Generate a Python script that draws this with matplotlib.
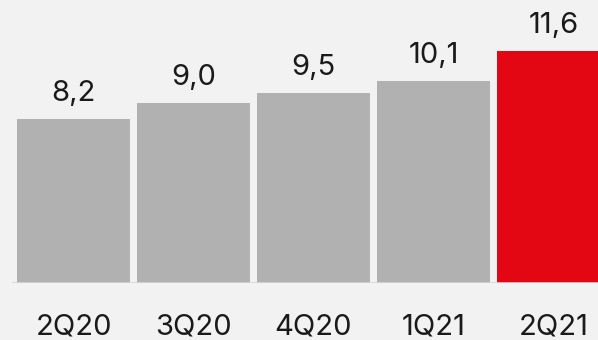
import matplotlib
matplotlib.use("Agg")
import matplotlib.pyplot as plt

quarters = ["2Q20", "3Q20", "4Q20", "1Q21", "2Q21"]
values = [8.2, 9.0, 9.5, 10.1, 11.6]
labels = ["8,2", "9,0", "9,5", "10,1", "11,6"]

bg = "#f2f2f2"
grey = "#b0b1b0"
red = "#e30613"
text_color = "#1a1a1a"
colors = [grey, grey, grey, grey, red]

plt.rcParams["font.family"] = ["Inter", "DejaVu Sans"]

fig = plt.figure(figsize=(5.98, 3.40), dpi=100, facecolor=bg)
ax = fig.add_axes([0, 57 / 340, 1, 283 / 340])
ax.set_facecolor(bg)

x = list(range(len(quarters)))
ax.bar(x, values, width=113 / 120, color=colors, zorder=2)

for xi, v, lab in zip(x, values, labels):
    ax.text(xi, v + 0.9, lab, ha="center", va="baseline",
            fontsize=21, color=text_color)

ax.set_xlim(-73.5 / 120, (598 - 73.5) / 120)
ax.set_ylim(0, 283 / 20)

ax.axhline(0, xmin=13 / 598, xmax=1, color="#d4d4d4", lw=1.2, zorder=3)

ax.set_xticks(x)
ax.set_xticklabels(quarters, fontsize=21, color=text_color)
for t in ax.get_xticklabels():
    t.set_va("baseline")
ax.tick_params(axis="x", length=0, pad=37.4)
ax.set_yticks([])
for s in ax.spines.values():
    s.set_visible(False)

fig.savefig("out.png", dpi=100, facecolor=bg)
